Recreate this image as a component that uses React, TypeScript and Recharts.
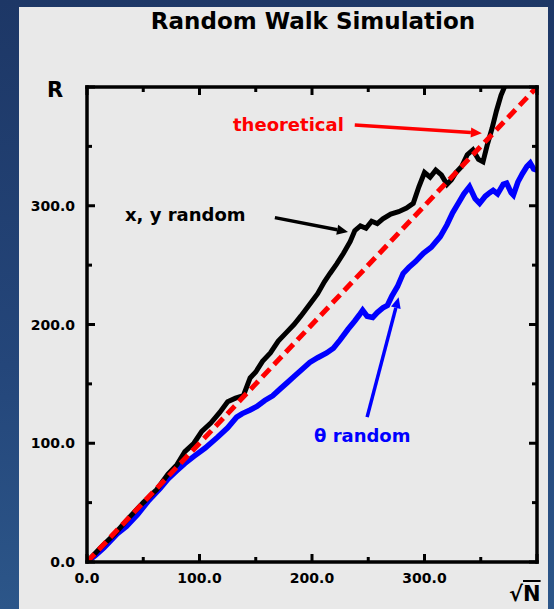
import { LineChart, Line, XAxis, YAxis, ReferenceLine } from 'recharts'

// sqrt(N) vs R
const xyRandomN = [0, 12, 25, 38, 50, 62, 72, 80, 87, 95, 102, 110, 118, 125, 132, 139, 145, 150, 156, 163, 170, 178, 184, 190, 198, 205, 211, 216, 222, 228, 234, 238, 243, 248, 253, 258, 263, 270, 277, 284, 290, 295, 300, 305, 310, 315, 320, 324, 328, 333, 338, 343, 348, 352, 356, 360, 364, 368, 372, 378, 385, 395, 400]
const xyRandomR = [0, 12, 24, 38, 50, 61, 74, 82, 93, 100, 110, 117, 126, 135, 138, 140, 155, 160, 169, 176, 186, 194, 200, 207, 217, 226, 236, 243, 251, 260, 270, 279, 283, 281, 287, 285, 289, 293, 295, 298, 302, 316, 328, 324, 330, 326, 318, 322, 328, 333, 343, 347, 339, 337, 352, 365, 380, 393, 402, 415, 425, 440, 450]

const thetaRandomN = [0, 8, 15, 27, 35, 45, 55, 65, 72, 80, 87, 95, 105, 116, 125, 133, 138, 145, 151, 158, 165, 172, 178, 185, 192, 198, 205, 213, 219, 225, 232, 238, 242, 245, 249, 254, 258, 263, 267, 271, 276, 281, 286, 292, 299, 306, 314, 320, 325, 330, 335, 340, 345, 349, 354, 358, 361, 365, 370, 373, 377, 379, 383, 387, 391, 394, 397, 400]
const thetaRandomR = [0, 6, 12, 24, 30, 40, 52, 62, 70, 77, 83, 89, 96, 105, 113, 122, 125, 128, 131, 136, 140, 146, 151, 157, 163, 168, 172, 176, 180, 187, 196, 203, 208, 212, 207, 206, 210, 214, 216, 224, 232, 243, 248, 253, 260, 265, 274, 284, 294, 302, 310, 316, 306, 302, 308, 311, 313, 310, 318, 319, 311, 309, 320, 327, 333, 336, 331, 330]

const theoryN = [0, 400]
const theoryR = [0, 400]

const ticks = [0, 50, 100, 150, 200, 250, 300, 350, 400]
const labelled = [0, 100, 200, 300]

const zip = (n: number[], r: number[]) => n.map((x, i) => ({ x, y: r[i] }))
const xyData = zip(xyRandomN, xyRandomR)
const thetaData = zip(thetaRandomN, thetaRandomR)
const theoryData = zip(theoryN, theoryR)

const FONT = "'DejaVu Sans', sans-serif"
const tickLen = (v: number) => (v % 100 === 0 ? 8 : 5)
const fmt = (v: number) => v.toFixed(1)

// ticks point into the plot, labels only on 0..300
function BottomTick({ x, y, payload }: any) {
  const v = payload.value
  return (
    <g>
      <line x1={x} y1={y} x2={x} y2={y - tickLen(v)} stroke="#000" strokeWidth={3} />
      {labelled.includes(v) && (
        <text x={x} y={y + 21} textAnchor="middle" fontFamily={FONT} fontWeight="bold" fontSize={14} fill="#000">{fmt(v)}</text>
      )}
    </g>
  )
}
function TopTick({ x, y, payload }: any) {
  return <line x1={x} y1={y} x2={x} y2={y + tickLen(payload.value)} stroke="#000" strokeWidth={3} />
}
function LeftTick({ x, y, payload }: any) {
  const v = payload.value
  return (
    <g>
      <line x1={x} y1={y} x2={x + tickLen(v)} y2={y} stroke="#000" strokeWidth={3} />
      {labelled.includes(v) && (
        <text x={x - 12} y={y + 5} textAnchor="end" fontFamily={FONT} fontWeight="bold" fontSize={14} fill="#000">{fmt(v)}</text>
      )}
    </g>
  )
}
function RightTick({ x, y, payload }: any) {
  return <line x1={x} y1={y} x2={x - tickLen(payload.value)} y2={y} stroke="#000" strokeWidth={3} />
}

const arrow = (color: string) => (p: any) => {
  const { x1, y1, x2, y2 } = p
  const a = Math.atan2(y2 - y1, x2 - x1)
  const L = 11, W = 5
  const bx = x2 - L * Math.cos(a), by = y2 - L * Math.sin(a)
  const pts = [
    [x2, y2],
    [bx + W * Math.sin(a), by - W * Math.cos(a)],
    [bx - W * Math.sin(a), by + W * Math.cos(a)],
  ].map(q => q.join(',')).join(' ')
  return (
    <g>
      <line x1={x1} y1={y1} x2={bx} y2={by} stroke={color} strokeWidth={3.5} />
      <polygon points={pts} fill={color} />
    </g>
  )
}

const axisLine = { stroke: '#000', strokeWidth: 3.5, strokeLinecap: 'square' as const }

const txt = (extra: React.CSSProperties): React.CSSProperties => ({
  position: 'absolute', fontFamily: FONT, fontWeight: 'bold', whiteSpace: 'nowrap', lineHeight: 1, ...extra,
})

export default function App() {
  return (
    <div style={{
      position: 'absolute', left: 0, top: 0, width: 554, height: 609, overflow: 'hidden',
      background: 'linear-gradient(180deg, #1d3766 0%, #24467a 60%, #2c5689 100%)',
    }}>
      <div style={{ position: 'absolute', left: 19, top: 7, width: 529, height: 602, background: '#e9e9e9' }} />
      <div style={{ position: 'absolute', left: 0, top: 0 }}>
        <LineChart width={554} height={609} margin={{ top: 0, right: 0, bottom: 0, left: 0 }}>
          <XAxis xAxisId={0} type="number" dataKey="x" domain={[0, 400]} ticks={ticks} interval={0}
            allowDataOverflow height={47} axisLine={axisLine} tickLine={false} tickSize={0} tickMargin={0} tick={<BottomTick />} />
          <XAxis xAxisId="top" orientation="top" type="number" dataKey="x" domain={[0, 400]} ticks={ticks} interval={0}
            allowDataOverflow height={87} axisLine={axisLine} tickLine={false} tickSize={0} tickMargin={0} tick={<TopTick />} />
          <YAxis yAxisId={0} type="number" dataKey="y" domain={[0, 400]} ticks={ticks} interval={0}
            allowDataOverflow width={87} axisLine={axisLine} tickLine={false} tickSize={0} tickMargin={0} tick={<LeftTick />} />
          <YAxis yAxisId="right" orientation="right" type="number" dataKey="y" domain={[0, 400]} ticks={ticks} interval={0}
            allowDataOverflow width={17} axisLine={axisLine} tickLine={false} tickSize={0} tickMargin={0} tick={<RightTick />} />

          <Line data={thetaData} dataKey="y" name="θ random" type="linear" stroke="#0000ff" strokeWidth={5.5}
            strokeLinejoin="miter" dot={false} isAnimationActive={false} />
          <Line data={xyData} dataKey="y" name="x, y random" type="linear" stroke="#000000" strokeWidth={5}
            strokeLinejoin="miter" dot={false} isAnimationActive={false} />
          <Line data={theoryData} dataKey="y" name="theoretical" type="linear" stroke="#ff0000" strokeWidth={5}
            strokeDasharray="11 6" dot={false} isAnimationActive={false} />

          <ReferenceLine segment={[{ x: 238, y: 368 }, { x: 351, y: 361 }]} shape={arrow('#ff0000')} />
          <ReferenceLine segment={[{ x: 167, y: 290 }, { x: 232, y: 278 }]} shape={arrow('#000000')} />
          <ReferenceLine segment={[{ x: 249, y: 122 }, { x: 277, y: 223 }]} shape={arrow('#0000ff')} />
        </LineChart>
      </div>

      <div style={txt({ left: 313, top: 10, fontSize: 23, transform: 'translateX(-50%)', color: '#000' })}>Random Walk Simulation</div>
      <div style={txt({ left: 47, top: 80, fontSize: 21, color: '#000' })}>R</div>
      <div style={txt({ left: 233, top: 116, fontSize: 18, color: '#ff0000' })}>theoretical</div>
      <div style={txt({ left: 125, top: 206, fontSize: 18, color: '#000' })}>x, y random</div>
      <div style={txt({ left: 314, top: 427, fontSize: 18, color: '#0000ff' })}>θ random</div>
      <div style={txt({ left: 509, top: 584, fontSize: 21, color: '#000' })}>
        √<span style={{ textDecoration: 'overline' }}>N</span>
      </div>
    </div>
  )
}
